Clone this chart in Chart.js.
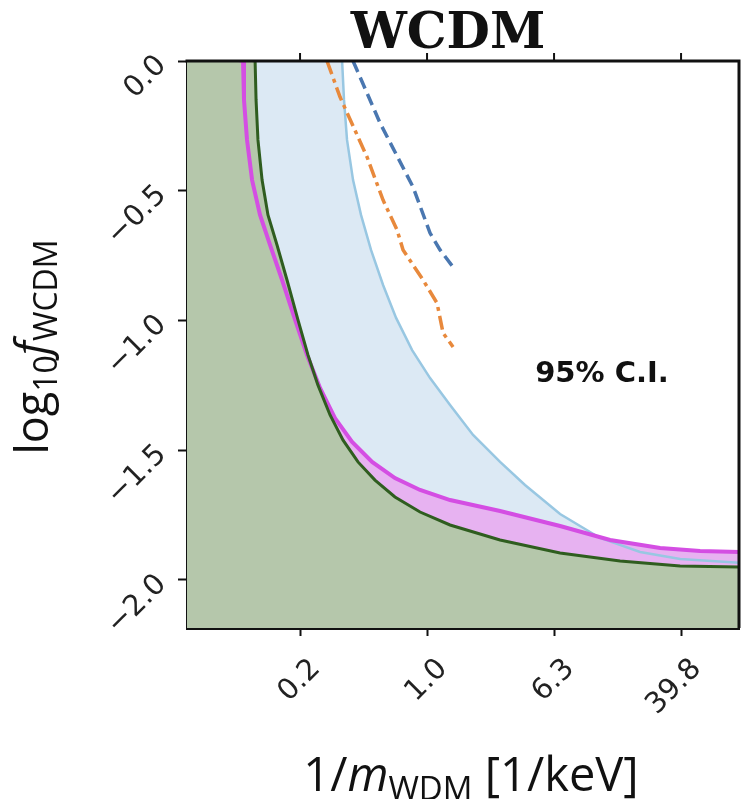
<!DOCTYPE html>
<html>
<head>
<meta charset="utf-8">
<script src="https://cdn.jsdelivr.net/npm/chart.js@4.4.1/dist/chart.umd.min.js"></script>
<style>
  html, body { margin: 0; padding: 0; background: #fff; }
  #wrap { width: 741px; height: 799px; }
</style>
</head>
<body>
<div id="wrap"><canvas id="wcdm"></canvas></div>
<script>
// axis limits, log10(1/m) on x, log10 f on y
const X_MIN = -1.512, X_MAX = 1.965;
const Y_MIN = -2.185, Y_MAX = 0;
const xTickValues = [-0.8, 0, 0.8, 1.6];
const yTickValues = [0, -0.5, -1.0, -1.5, -2.0];

// dark green bound
const greenX = [-1.083, -1.077, -1.065, -1.039, -1.002, -0.945, -0.882, -0.813, -0.750, -0.687, -0.611, -0.529, -0.435, -0.328, -0.202, -0.044, 0.145, 0.460, 0.838, 1.216, 1.594, 1.965];
const greenY = [0, -0.150, -0.304, -0.459, -0.593, -0.709, -0.844, -0.998, -1.133, -1.249, -1.364, -1.461, -1.545, -1.615, -1.680, -1.738, -1.788, -1.846, -1.896, -1.927, -1.946, -1.950];

// magenta bound
const magX = [-1.159, -1.153, -1.134, -1.102, -1.052, -0.989, -0.913, -0.831, -0.756, -0.674, -0.580, -0.472, -0.346, -0.202, -0.044, 0.145, 0.460, 0.838, 1.153, 1.468, 1.720, 1.965];
const magY = [0, -0.150, -0.304, -0.459, -0.593, -0.709, -0.844, -0.998, -1.133, -1.260, -1.376, -1.468, -1.545, -1.607, -1.653, -1.692, -1.734, -1.792, -1.846, -1.877, -1.888, -1.892];

// light blue bound
const lbX = [-0.535, -0.523, -0.504, -0.466, -0.416, -0.353, -0.277, -0.195, -0.094, 0.019, 0.145, 0.290, 0.460, 0.617, 0.838, 1.090, 1.342, 1.594, 1.965];
const lbY = [0, -0.150, -0.304, -0.459, -0.593, -0.728, -0.863, -0.990, -1.114, -1.222, -1.326, -1.441, -1.545, -1.634, -1.746, -1.838, -1.892, -1.919, -1.934];

// orange dash-dot
const orX = [-0.630, -0.548, -0.378, -0.277, -0.189, -0.151, -0.025, 0.063, 0.101, 0.164];
const orY = [0, -0.139, -0.370, -0.536, -0.651, -0.728, -0.844, -0.933, -1.048, -1.102];

// blue dashed
const dashX = [-0.466, -0.296, -0.088, 0.019, 0.082, 0.164];
const dashY = [0, -0.239, -0.486, -0.663, -0.728, -0.794];

function pts(xs, ys) {
    return xs.map((x, i) => ({ x: x, y: ys[i] }));
}
// filled regions start just above the top-left corner (clipped away)
// so the whole left side gets covered by the fill
function region(xs, ys) {
    return [{ x: X_MIN, y: Y_MAX + 0.05 }].concat(pts(xs, ys));
}

const TICK_FONT = { family: "DejaVu Sans", size: 29 };

const decorations = {
    id: "decorations",
    afterDraw(chart) {
        const ctx = chart.ctx;
        const a = chart.chartArea;
        const xs = chart.scales.x;
        ctx.save();
        // top and right frame + top ticks
        ctx.strokeStyle = "#111";
        ctx.lineWidth = 3;
        ctx.beginPath();
        ctx.moveTo(a.left - 1.5, a.top);
        ctx.lineTo(a.right, a.top);
        ctx.lineTo(a.right, a.bottom);
        ctx.stroke();
        ctx.lineWidth = 2;
        xTickValues.forEach(v => {
            const px = xs.getPixelForValue(v);
            ctx.beginPath();
            ctx.moveTo(px, a.top);
            ctx.lineTo(px, a.top - 8);
            ctx.stroke();
        });

        ctx.fillStyle = "#111";
        // title
        ctx.font = "bold 50px 'DejaVu Serif'";
        ctx.textAlign = "center";
        ctx.textBaseline = "alphabetic";
        ctx.fillText("WCDM", 448, 48);

        // annotation
        ctx.font = "bold 29px 'DejaVu Sans'";
        ctx.fillText("95% C.I.", 602, 382);

        // x axis title
        drawParts(ctx, [
            { t: "1/", f: "47px 'Open Sans'", dy: 0 },
            { t: "m", f: "italic 47px 'Open Sans'", dy: 0 },
            { t: "WDM", f: "33px 'Open Sans'", dy: 9 },
            { t: " [1/keV]", f: "47px 'Open Sans'", dy: 0 }
        ], 471, 791, 0);

        // y axis title
        drawParts(ctx, [
            { t: "log", f: "45px 'Open Sans'", dy: 0 },
            { t: "10", f: "32px 'Open Sans'", dy: 9 },
            { t: "f", f: "italic 45px 'Open Sans'", dy: 0 },
            { t: "WCDM", f: "32px 'Open Sans'", dy: 9 }
        ], 48, 347, -Math.PI / 2);
        ctx.restore();
    }
};

function drawParts(ctx, parts, cx, cy, rot) {
    let total = 0;
    parts.forEach(p => { ctx.font = p.f; p.w = ctx.measureText(p.t).width; total += p.w; });
    ctx.save();
    ctx.translate(cx, cy);
    ctx.rotate(rot);
    ctx.textAlign = "left";
    ctx.textBaseline = "alphabetic";
    let x = -total / 2;
    parts.forEach(p => {
        ctx.font = p.f;
        ctx.fillText(p.t, x, p.dy);
        x += p.w;
    });
    ctx.restore();
}

new Chart(document.getElementById("wcdm"), {
    type: "line",
    data: {
        datasets: [
            {
                label: "dashed",
                data: pts(dashX, dashY),
                borderColor: "#4a77b0",
                borderWidth: 3.5,
                borderDash: [12, 6],
                fill: false
            },
            {
                label: "dash-dot",
                data: pts(orX, orY),
                borderColor: "#e8893c",
                borderWidth: 3.5,
                borderDash: [14, 5, 4, 5],
                fill: false
            },
            {
                label: "green",
                data: region(greenX, greenY),
                borderColor: "#2f5d1f",
                backgroundColor: "#b5c7ab",
                borderWidth: 3,
                fill: "start",
                clip: 0
            },
            {
                label: "magenta",
                data: region(magX, magY),
                borderColor: "#d44ee3",
                backgroundColor: "#e7b2f1",
                borderWidth: 4,
                fill: "start",
                clip: 0
            },
            {
                label: "lightblue",
                data: region(lbX, lbY),
                borderColor: "#98c7e2",
                backgroundColor: "#dce9f4",
                borderWidth: 2.5,
                fill: "start",
                clip: 0
            }
        ]
    },
    options: {
        responsive: true,
        maintainAspectRatio: false,
        animation: false,
        layout: { padding: { top: 61, right: 2, left: 0, bottom: 0 } },
        elements: { point: { radius: 0 }, line: { tension: 0 } },
        plugins: {
            legend: { display: false },
            tooltip: { enabled: false },
            filler: { drawTime: "beforeDatasetsDraw" }
        },
        scales: {
            x: {
                type: "linear",
                min: X_MIN,
                max: X_MAX,
                afterBuildTicks: s => { s.ticks = xTickValues.map(v => ({ value: v })); },
                afterFit: s => { s.height = 171; },
                grid: { drawOnChartArea: false, drawTicks: true, tickLength: 8, tickWidth: 2, tickColor: "#111" },
                border: { display: true, color: "#111", width: 3 },
                ticks: {
                    font: TICK_FONT,
                    color: "#222",
                    minRotation: 45,
                    maxRotation: 45,
                    padding: 16,
                    labelOffset: 16,
                    callback: v => Math.pow(10, v).toFixed(1)
                }
            },
            y: {
                type: "linear",
                min: Y_MIN,
                max: Y_MAX,
                afterBuildTicks: s => { s.ticks = yTickValues.map(v => ({ value: v })); },
                afterFit: s => { s.width = 187; },
                grid: { drawOnChartArea: false, drawTicks: true, tickLength: 9, tickWidth: 2, tickColor: "#111" },
                border: { display: true, color: "#111", width: 3 },
                ticks: {
                    font: TICK_FONT,
                    color: "#222",
                    minRotation: 45,
                    maxRotation: 45,
                    padding: 16,
                    callback: v => v.toFixed(1).replace("-", "\u2212")
                }
            }
        }
    },
    plugins: [decorations]
});
</script>
</body>
</html>
